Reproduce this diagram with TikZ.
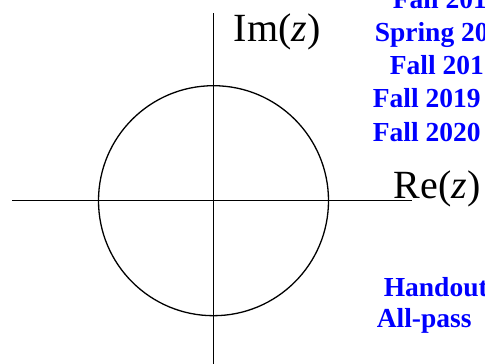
\documentclass[tikz,border=0pt]{standalone}
\usepackage{fontspec}
\setmainfont{Liberation Serif}
\usepackage{tikz}
\usetikzlibrary{arrows.meta}
\usepackage{xcolor}

\tikzset{
  axislabel/.style={anchor=base west,inner sep=0pt,font=\fontsize{40}{40}\selectfont},
  term/.style={anchor=base west,inner sep=0pt,text=blue,font=\fontsize{27.5}{27.5}\selectfont\bfseries}
}

\begin{document}
\begin{tikzpicture}[x=1pt,y=1pt,line width=1.6pt,line cap=butt]
\useasboundingbox (0,0) rectangle (485,364);
\clip (0,0) rectangle (485,364);
\fill[white] (0,0) rectangle (485,364);
% axes and unit circle
\draw (12,163.3) -- (412,163.3);
\draw (213.5,0) -- (213.5,351);
\draw[line width=1.3pt] (213.5,163.3) circle (115);
\node[axislabel] (im) at (233,322) {Im(\textit{z})};
\node[axislabel] (re) at (393,165) {Re(\textit{z})};
% semester list
\node[term] (t1) at (392,355) {Fall 201};
\node[term] (t2) at (374,322) {Spring 20};
\node[term] (t3) at (389,289) {Fall 201};
\node[term] (t4) at (372,256) {Fall 2019};
\node[term] (t5) at (372,222) {Fall 2020};
\node[term] (ho) at (383,67) {Handout};
\node[term] (ap) at (376,36) {All-pass};
\end{tikzpicture}
\end{document}
